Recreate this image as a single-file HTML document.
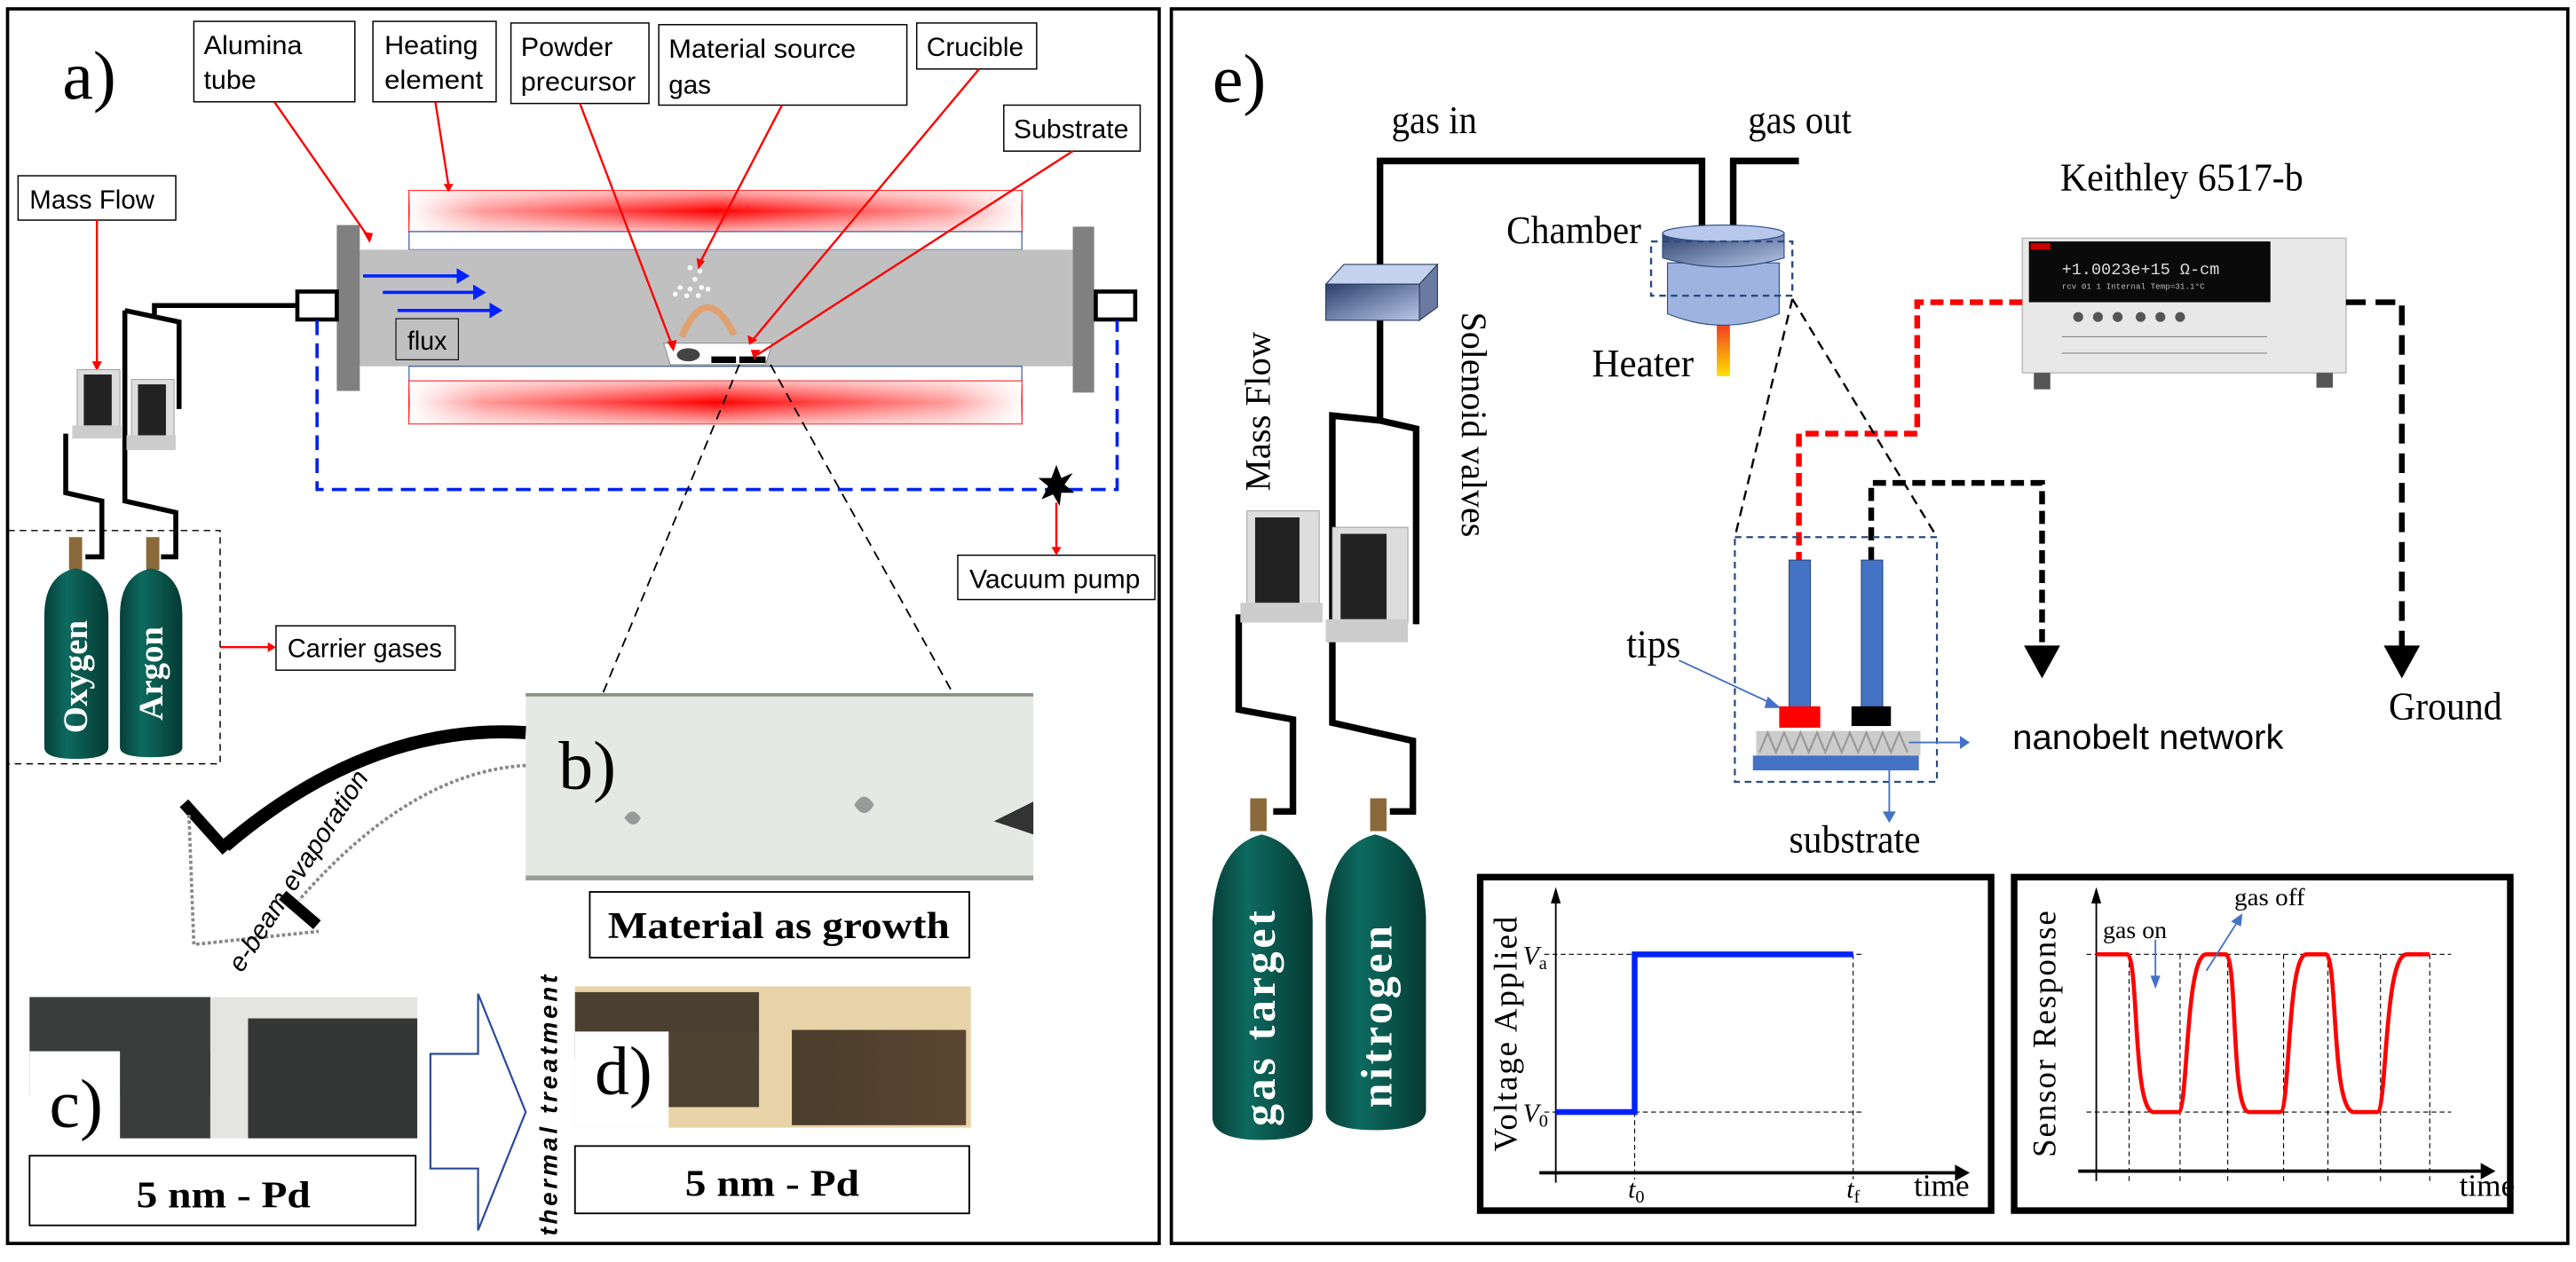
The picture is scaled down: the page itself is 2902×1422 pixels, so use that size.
<!DOCTYPE html>
<html><head><meta charset="utf-8"><style>
html,body{margin:0;padding:0;background:#fff;}
svg{display:block;}
.lb{font-family:"Liberation Sans Narrow","Liberation Sans",sans-serif;font-size:16px;fill:#000;}
.sf{font-family:"Liberation Serif",serif;fill:#000;}
</style></head><body>
<svg width="2902" height="1422" viewBox="0 0 1568 768.3" preserveAspectRatio="none" xmlns="http://www.w3.org/2000/svg">
<defs>
<linearGradient id="heatH" x1="0" x2="1" y1="0" y2="0">
<stop offset="0" stop-color="#fff"/><stop offset="0.12" stop-color="#ff9a9a"/><stop offset="0.5" stop-color="#ff0000"/><stop offset="0.88" stop-color="#ff9a9a"/><stop offset="1" stop-color="#fff"/></linearGradient>
<linearGradient id="heatV" x1="0" x2="0" y1="0" y2="1">
<stop offset="0" stop-color="#fff" stop-opacity="0.7"/><stop offset="0.5" stop-color="#fff" stop-opacity="0"/><stop offset="1" stop-color="#fff" stop-opacity="0.7"/></linearGradient>
<linearGradient id="cyl" x1="0" x2="1"><stop offset="0" stop-color="#063f38"/><stop offset="0.35" stop-color="#0d6a5f"/><stop offset="1" stop-color="#053a33"/></linearGradient>
<linearGradient id="blu" x1="0" x2="1" y1="0" y2="1"><stop offset="0" stop-color="#2b3f6a"/><stop offset="1" stop-color="#b8c8ea"/></linearGradient>
<linearGradient id="rod" x1="0" x2="0" y1="0" y2="1"><stop offset="0" stop-color="#f04020"/><stop offset="1" stop-color="#ffe000"/></linearGradient>
<linearGradient id="brown" x1="0" x2="1"><stop offset="0" stop-color="#4a3d2c"/><stop offset="1" stop-color="#5a4630"/></linearGradient>
</defs>

<rect x="4.6" y="5.4" width="701" height="751.6" fill="none" stroke="#000" stroke-width="2"/>
<text class="sf" x="38" y="60" font-size="42">a)</text>

<g fill="#fff" stroke="#000" stroke-width="0.8">
<rect x="118" y="13" width="98" height="49"/><rect x="227" y="13" width="75" height="49"/>
<rect x="311" y="14" width="84" height="49"/><rect x="401" y="15" width="151" height="49"/>
<rect x="558" y="14" width="73" height="28"/><rect x="611" y="64" width="83" height="28"/>
<rect x="11" y="107" width="96" height="27"/><rect x="583" y="338" width="120" height="27"/>
<rect x="168" y="381" width="109" height="27"/>
</g>
<g class="lb" style="font-size:16px">
<text x="124" y="33" textLength="60" lengthAdjust="spacingAndGlyphs">Alumina</text><text x="124" y="54" textLength="32" lengthAdjust="spacingAndGlyphs">tube</text>
<text x="234" y="33" textLength="57" lengthAdjust="spacingAndGlyphs">Heating</text><text x="234" y="54" textLength="60" lengthAdjust="spacingAndGlyphs">element</text>
<text x="317" y="34" textLength="56" lengthAdjust="spacingAndGlyphs">Powder</text><text x="317" y="55" textLength="70" lengthAdjust="spacingAndGlyphs">precursor</text>
<text x="407" y="35" textLength="114" lengthAdjust="spacingAndGlyphs">Material source</text><text x="407" y="57" style="font-size:16px">gas</text>
<text x="564" y="34" textLength="59" lengthAdjust="spacingAndGlyphs">Crucible</text><text x="617" y="84" textLength="70" lengthAdjust="spacingAndGlyphs">Substrate</text>
<text x="18" y="127" textLength="76" lengthAdjust="spacingAndGlyphs">Mass Flow</text><text x="590" y="358" textLength="104" lengthAdjust="spacingAndGlyphs">Vacuum pump</text>
<text x="175" y="400" textLength="94" lengthAdjust="spacingAndGlyphs">Carrier gases</text>
</g>

<rect x="249" y="116" width="373" height="25" fill="url(#heatH)" stroke="#f00" stroke-width="0.8"/>
<rect x="249" y="116" width="373" height="25" fill="url(#heatV)"/>
<rect x="249" y="141" width="373" height="11" fill="#fff" stroke="#2a4a9a" stroke-width="0.6"/>
<rect x="219" y="152" width="434" height="71" fill="#c0c0c0"/>
<rect x="249" y="223" width="373" height="9" fill="#fff" stroke="#2a4a9a" stroke-width="0.6"/>
<rect x="249" y="232" width="373" height="26" fill="url(#heatH)" stroke="#f00" stroke-width="0.8"/>
<rect x="249" y="232" width="373" height="26" fill="url(#heatV)"/>
<rect x="205" y="137" width="14" height="101" fill="#808080"/>
<rect x="653" y="138" width="13" height="101" fill="#808080"/>
<rect x="181" y="177.5" width="24" height="17" fill="#fff" stroke="#000" stroke-width="2.5"/>
<rect x="667" y="177.5" width="24" height="17" fill="#fff" stroke="#000" stroke-width="2.5"/>
<g stroke="#0022ff" stroke-width="2" fill="#0022ff">
<line x1="221" y1="168" x2="280" y2="168"/><polygon points="279,165 284,168 279,171"/>
<line x1="233" y1="178" x2="290" y2="178"/><polygon points="289,175 294,178 289,181"/>
<line x1="242" y1="189" x2="300" y2="189"/><polygon points="299,186 304,189 299,192"/>
</g>
<rect x="241" y="194" width="38" height="25" fill="#c0c0c0" stroke="#000" stroke-width="0.6"/>
<text class="lb" x="248" y="213" font-size="16" textLength="24" lengthAdjust="spacingAndGlyphs">flux</text>
<path d="M415,205 Q430,170 447,204" fill="none" stroke="#e0a070" stroke-width="4"/>
<polygon points="404,209 470,209 466,222 408,222" fill="#fff" stroke="#888" stroke-width="0.5"/>
<ellipse cx="419" cy="216" rx="7" ry="4" fill="#444"/>
<rect x="433" y="217" width="15" height="4" fill="#000"/><rect x="450" y="217" width="16" height="4" fill="#000"/>
<g fill="#fff" opacity="0.9">
<circle cx="420" cy="163" r="1.5"/><circle cx="426" cy="165" r="1.5"/><circle cx="423" cy="170" r="1.5"/><circle cx="414" cy="175" r="1.5"/><circle cx="420" cy="176" r="1.5"/><circle cx="427" cy="175" r="1.5"/><circle cx="411" cy="179" r="1.5"/><circle cx="418" cy="180" r="1.5"/><circle cx="425" cy="180" r="1.5"/><circle cx="431" cy="176" r="1.5"/></g>
<g stroke="#f00" stroke-width="1.3" fill="none">
<line x1="167" y1="62" x2="224" y2="144"/><line x1="265" y1="62" x2="273" y2="113"/>
<line x1="353" y1="63" x2="409" y2="210"/><line x1="476" y1="64" x2="426" y2="160"/>
<line x1="596" y1="42" x2="459" y2="206"/><line x1="653" y1="92" x2="461" y2="216"/>
<line x1="59" y1="134" x2="59" y2="221"/><line x1="643" y1="306" x2="643" y2="334"/>
<line x1="134" y1="394" x2="164" y2="394"/>
</g>
<g fill="#f00">
<polygon points="221,141 227,142 225,148"/><polygon points="270,112 276,112 273,117"/>
<polygon points="406,208 412,207 410,214"/><polygon points="424,157 429,159 425,164"/>
<polygon points="455,204 461,207 456,210"/><polygon points="457,213 463,213 459,219"/>
<polygon points="56,220 62,220 59,226"/><polygon points="640,333 646,333 643,338"/>
<polygon points="163,391 168,394 163,397"/>
</g>
<path d="M193,195 V298 H680 V195" fill="none" stroke="#0022ee" stroke-width="2" stroke-dasharray="9,5"/>
<polygon points="643,283 646,291 653,288 648,295 654,300 646,300 645,308 641,301 634,304 638,296 632,291 640,291" fill="#000"/>
<g stroke="#000" stroke-width="1" stroke-dasharray="6,4">
<line x1="450" y1="222" x2="367" y2="422"/><line x1="469" y1="222" x2="580" y2="422"/></g>
<g fill="none" stroke="#000" stroke-width="3">
<path d="M181,186 H94 V192"/><path d="M76,189 L109,196 V249"/>
<path d="M76,189 V305 L107,312 V339 H98"/><path d="M40,264 V300 L62,305 V339 H52"/>
</g>
<g><rect x="47" y="225" width="26" height="36" fill="#ddd" stroke="#999" stroke-width="0.5"/><rect x="51" y="228" width="17" height="31" fill="#222"/><rect x="44" y="259" width="30" height="8" fill="#ccc"/>
<rect x="80" y="231" width="26" height="36" fill="#ddd" stroke="#999" stroke-width="0.5"/><rect x="84" y="234" width="17" height="31" fill="#222"/><rect x="77" y="265" width="30" height="9" fill="#ccc"/></g>
<rect x="5" y="323" width="129" height="142" fill="none" stroke="#000" stroke-width="0.8" stroke-dasharray="4,3"/>
<g fill="#8a6a3a"><rect x="42" y="327" width="8" height="20"/><rect x="89" y="327" width="8" height="20"/></g>
<path d="M27,375 Q27,350 46,346 Q65,350 66,375 V455 Q66,462 46,462 Q27,462 27,455 Z" fill="url(#cyl)"/>
<path d="M73,375 Q73,350 92,346 Q111,350 111,375 V455 Q111,461 92,461 Q73,461 73,455 Z" fill="url(#cyl)"/>
<text class="sf" font-size="21" font-weight="bold" transform="translate(53,412) rotate(-90)" text-anchor="middle" style="fill:#fff">Oxygen</text>
<text class="sf" font-size="21" font-weight="bold" transform="translate(99,410) rotate(-90)" text-anchor="middle" style="fill:#fff">Argon</text>
<rect x="320" y="422" width="309" height="114" fill="#e6e9e3"/>
<rect x="320" y="422" width="309" height="2" fill="#8a9088"/><rect x="320" y="533" width="309" height="3" fill="#9aa098"/>
<path d="M605,500 L629,488 L629,508 Z" fill="#333"/>
<path d="M380,498 q5,-8 10,0 q-4,8 -10,0" fill="#999"/><path d="M520,490 q6,-10 12,0 q-6,10 -12,0" fill="#999"/>
<text class="sf" x="340" y="480" font-size="42">b)</text>
<rect x="359" y="543" width="231" height="40" fill="#fff" stroke="#000" stroke-width="1"/>
<text class="sf" x="474" y="571" font-size="23" font-weight="bold" text-anchor="middle" textLength="208" lengthAdjust="spacingAndGlyphs">Material as growth</text>
<path d="M320,446 Q225,440 137,515" fill="none" stroke="#000" stroke-width="8"/>
<line x1="112" y1="489" x2="138" y2="518" stroke="#000" stroke-width="7"/>
<line x1="172" y1="545" x2="193" y2="563" stroke="#000" stroke-width="7"/>
<path d="M320,466 Q250,470 182,548 M115,496 L118,575 L194,567" fill="none" stroke="#888" stroke-width="2" stroke-dasharray="2,1.5"/>
<text x="0" y="0" font-family="Liberation Sans,sans-serif" font-style="italic" font-size="16" transform="translate(186,533) rotate(-57)" text-anchor="middle">e-beam evaporation</text>
<rect x="18" y="607" width="236" height="86" fill="#e4e4e0"/>
<rect x="18" y="607" width="110" height="60" fill="#3b3d3c"/>
<rect x="73" y="640" width="55" height="53" fill="#3b3d3c"/>
<rect x="151" y="620" width="103" height="73" fill="#353736"/>
<rect x="18" y="640" width="55" height="53" fill="#fff"/>
<text class="sf" x="30" y="686" font-size="42">c)</text>
<rect x="18" y="703.6" width="235" height="42.4" fill="#fff" stroke="#000" stroke-width="1"/>
<text class="sf" x="136" y="735" font-size="23" font-weight="bold" text-anchor="middle" textLength="106" lengthAdjust="spacingAndGlyphs">5 nm - Pd</text>
<polygon points="262,641.6 291,641.6 291,605 320,677 291,749 291,711.4 262,711.4" fill="#fff" stroke="#2a4a9a" stroke-width="1.2"/>
<text x="0" y="0" font-family="Liberation Sans,sans-serif" font-style="italic" font-weight="bold" font-size="15" letter-spacing="2" transform="translate(339,672) rotate(-90)" text-anchor="middle">thermal treatment</text>
<rect x="350" y="600.5" width="241" height="86" fill="#e8d3a8"/>
<rect x="350" y="604" width="112" height="40" fill="#4a3f30"/>
<rect x="407" y="628" width="55" height="46" fill="#4e4232"/>
<rect x="482" y="627" width="106" height="58" fill="url(#brown)"/>
<rect x="350" y="628" width="57" height="58.5" fill="#fff"/>
<text class="sf" x="362" y="666" font-size="42">d)</text>
<rect x="350" y="697.7" width="240" height="41" fill="#fff" stroke="#000" stroke-width="1"/>
<text class="sf" x="470" y="728" font-size="23" font-weight="bold" text-anchor="middle" textLength="106" lengthAdjust="spacingAndGlyphs">5 nm - Pd</text>

<rect x="713" y="5.4" width="850" height="751.6" fill="none" stroke="#000" stroke-width="2"/>
<text class="sf" x="738" y="62" font-size="42">e)</text>
<text class="sf" x="847" y="81" font-size="24" textLength="52" lengthAdjust="spacingAndGlyphs">gas in</text>
<text class="sf" x="1064" y="81" font-size="24" textLength="63" lengthAdjust="spacingAndGlyphs">gas out</text>
<g fill="none" stroke="#000" stroke-width="4">
<path d="M840,163 V98 H1036 V139"/><path d="M1055,139 V98 H1095"/>
<path d="M840,195 V256"/>
<path d="M840,256 L811,253 V440 L860,451 V494 H846"/>
<path d="M840,256 L862,261 V380"/>
<path d="M754,374 V432 L787,438 V494 H775"/>
</g>
<polygon points="807,173 818,161 875,161 864,173" fill="#c4d2ee" stroke="#2a3a60" stroke-width="0.6"/>
<polygon points="864,173 875,161 875,187 864,195" fill="#6a7aa0" stroke="#2a3a60" stroke-width="0.6"/>
<rect x="807" y="173" width="57" height="22" fill="url(#blu)" stroke="#2a3a60" stroke-width="0.6"/>
<text class="sf" font-size="22" transform="translate(890,190) rotate(90)" textLength="137" lengthAdjust="spacingAndGlyphs">Solenoid valves</text>
<text class="sf" font-size="22" transform="translate(773,299) rotate(-90)" textLength="97" lengthAdjust="spacingAndGlyphs">Mass Flow</text>
<text class="sf" x="917" y="148" font-size="24" textLength="82" lengthAdjust="spacingAndGlyphs">Chamber</text>
<rect x="1045" y="198" width="8" height="31" fill="url(#rod)"/>
<path d="M1015,160 V191 Q1049,205 1083,191 V160 Z" fill="#9fb3e0" stroke="#2a4a80" stroke-width="0.6"/>
<path d="M1012,142 V157 Q1049,168 1086,157 V142 Z" fill="url(#blu)" stroke="#2a4a80" stroke-width="0.6"/>
<ellipse cx="1049" cy="142" rx="37" ry="5" fill="#b8c8ec" stroke="#2a4a80" stroke-width="0.6"/>
<rect x="1005" y="147" width="86" height="33" fill="none" stroke="#2a4a80" stroke-width="1.3" stroke-dasharray="4,3"/>
<text class="sf" x="969" y="229" font-size="24" textLength="62" lengthAdjust="spacingAndGlyphs">Heater</text>
<text class="sf" x="1254" y="116" font-size="24" textLength="148" lengthAdjust="spacingAndGlyphs">Keithley 6517-b</text>
<rect x="1231" y="145" width="197" height="82" fill="#e8e8e8" stroke="#bbb" stroke-width="0.8"/>
<rect x="1235" y="147" width="147" height="37" fill="#0a0a0a"/>
<rect x="1236" y="148" width="12" height="4" fill="#c00"/>
<text x="1255" y="167" font-family="Liberation Mono,monospace" font-size="10" style="fill:#ddd">+1.0023e+15 Ω-cm</text>
<text x="1255" y="176" font-family="Liberation Mono,monospace" font-size="5" style="fill:#bbb">rcv 01 1  Internal Temp=31.1°C</text>
<g fill="#555"><circle cx="1265" cy="193" r="3"/><circle cx="1277" cy="193" r="3"/><circle cx="1289" cy="193" r="3"/><circle cx="1303" cy="193" r="3"/><circle cx="1315" cy="193" r="3"/><circle cx="1327" cy="193" r="3"/></g>
<g stroke="#888" stroke-width="0.6"><line x1="1255" y1="205" x2="1380" y2="205"/><line x1="1255" y1="215" x2="1380" y2="215"/></g>
<rect x="1238" y="227" width="10" height="10" fill="#555"/><rect x="1410" y="227" width="10" height="9" fill="#555"/>
<path d="M1231,184 H1167 V264 H1095 V341" fill="none" stroke="#f00" stroke-width="3.5" stroke-dasharray="8,4"/>
<path d="M1139,341 V294 H1243 V395" fill="none" stroke="#000" stroke-width="3.5" stroke-dasharray="8,4"/>
<polygon points="1232,393 1254,393 1243,413" fill="#000"/>
<path d="M1428,184 H1462 V395" fill="none" stroke="#000" stroke-width="3.5" stroke-dasharray="12,6"/>
<polygon points="1451,393 1473,393 1462,413" fill="#000"/>
<text class="sf" x="1454" y="438" font-size="24" textLength="69" lengthAdjust="spacingAndGlyphs">Ground</text>
<g stroke="#000" stroke-width="1.3" stroke-dasharray="6,4"><line x1="1091" y1="182" x2="1056" y2="327"/><line x1="1091" y1="182" x2="1179" y2="327"/></g>
<rect x="1056" y="327" width="123" height="149" fill="none" stroke="#2a4a80" stroke-width="1.2" stroke-dasharray="4,3"/>
<rect x="1089" y="341" width="13" height="90" fill="#4472c4" stroke="#2a4a80" stroke-width="0.6"/>
<rect x="1133" y="341" width="13" height="90" fill="#4472c4" stroke="#2a4a80" stroke-width="0.6"/>
<rect x="1083" y="430" width="25" height="13" fill="#f00"/><rect x="1127" y="430" width="24" height="12" fill="#000"/>
<rect x="1069" y="445" width="100" height="15" fill="#ccc"/>
<path d="M1071,458 l5,-12 l5,12 l5,-12 l5,12 l5,-12 l5,12 l5,-12 l5,12 l5,-12 l5,12 l5,-12 l5,12 l5,-12 l5,12 l5,-12 l5,12 l5,-12 l5,12" fill="none" stroke="#999" stroke-width="1.2"/>
<rect x="1067" y="460" width="101" height="9" fill="#4472c4"/>
<text class="sf" x="990" y="400" font-size="24" textLength="33" lengthAdjust="spacingAndGlyphs">tips</text>
<line x1="1022" y1="402" x2="1080" y2="429" stroke="#4472c4" stroke-width="1"/><polygon points="1076,424 1084,431 1074,431" fill="#4472c4"/>
<line x1="1162" y1="452" x2="1194" y2="452" stroke="#4472c4" stroke-width="1"/><polygon points="1193,448 1199,452 1193,456" fill="#4472c4"/>
<text x="1225" y="456" font-family="Liberation Sans Narrow,Liberation Sans,sans-serif" font-size="21" textLength="165" lengthAdjust="spacingAndGlyphs">nanobelt network</text>
<line x1="1150" y1="469" x2="1150" y2="496" stroke="#4472c4" stroke-width="1"/><polygon points="1146,494 1154,494 1150,501" fill="#4472c4"/>
<text class="sf" x="1089" y="519" font-size="24" textLength="80" lengthAdjust="spacingAndGlyphs">substrate</text>
<rect x="759" y="311" width="44" height="58" fill="#ddd" stroke="#999" stroke-width="0.5"/><rect x="764" y="315" width="27" height="52" fill="#222"/><rect x="755" y="367" width="50" height="12" fill="#ccc"/>
<rect x="811" y="321" width="46" height="58" fill="#ddd" stroke="#999" stroke-width="0.5"/><rect x="816" y="325" width="28" height="52" fill="#222"/><rect x="807" y="377" width="50" height="14" fill="#ccc"/>
<g fill="#8a6a3a"><rect x="761" y="486" width="10" height="20"/><rect x="834" y="486" width="10" height="20"/></g>
<path d="M738,560 Q740,515 768,508 Q797,515 799,560 V680 Q799,694 768,694 Q738,694 738,680 Z" fill="url(#cyl)"/>
<path d="M807,558 Q809,515 837,508 Q866,515 868,558 V676 Q868,688 837,688 Q807,688 807,676 Z" fill="url(#cyl)"/>
<text class="sf" font-size="27" font-weight="bold" letter-spacing="2" transform="translate(776,619) rotate(-90)" text-anchor="middle" style="fill:#fff">gas target</text>
<text class="sf" font-size="27" font-weight="bold" letter-spacing="2" transform="translate(847,618) rotate(-90)" text-anchor="middle" style="fill:#fff">nitrogen</text>
<rect x="901" y="534" width="311" height="203" fill="#fff" stroke="#000" stroke-width="4"/>
<line x1="947" y1="548" x2="947" y2="720" stroke="#000" stroke-width="1"/><polygon points="944,550 950,550 947,540" fill="#000"/>
<line x1="937" y1="714" x2="1192" y2="714" stroke="#000" stroke-width="2"/><polygon points="1190,709 1199,714 1190,719" fill="#000"/>
<g stroke="#000" stroke-width="0.6" stroke-dasharray="3,2"><line x1="940" y1="581" x2="1134" y2="581"/><line x1="940" y1="677" x2="1134" y2="677"/><line x1="995" y1="677" x2="995" y2="718"/><line x1="1128" y1="581" x2="1128" y2="718"/></g>
<path d="M947,677 H995 V581 H1128" fill="none" stroke="#0022ff" stroke-width="3.5"/>
<text class="sf" font-size="20" letter-spacing="1" transform="translate(923,629) rotate(-90)" text-anchor="middle">Voltage Applied</text>
<text class="sf" x="927" y="587" font-size="16" font-style="italic">V<tspan font-size="11" dy="3" font-style="normal">a</tspan></text>
<text class="sf" x="927" y="683" font-size="16" font-style="italic">V<tspan font-size="11" dy="3" font-style="normal">0</tspan></text>
<text class="sf" x="991" y="729" font-size="16" font-style="italic">t<tspan font-size="11" dy="3" font-style="normal">0</tspan></text>
<text class="sf" x="1124" y="729" font-size="16" font-style="italic">t<tspan font-size="11" dy="3" font-style="normal">f</tspan></text>
<text class="sf" x="1165" y="728" font-size="19">time</text>
<rect x="1226" y="534" width="302" height="203" fill="#fff" stroke="#000" stroke-width="4"/>
<line x1="1276" y1="548" x2="1276" y2="719" stroke="#000" stroke-width="1"/><polygon points="1273,550 1279,550 1276,540" fill="#000"/>
<line x1="1265" y1="713" x2="1512" y2="713" stroke="#000" stroke-width="2"/><polygon points="1510,708 1519,713 1510,718" fill="#000"/>
<g stroke="#000" stroke-width="0.6" stroke-dasharray="3,2"><line x1="1270" y1="581" x2="1492" y2="581"/><line x1="1270" y1="677" x2="1492" y2="677"/>
<line x1="1296" y1="581" x2="1296" y2="719"/><line x1="1327" y1="581" x2="1327" y2="719"/><line x1="1356" y1="581" x2="1356" y2="719"/><line x1="1390" y1="581" x2="1390" y2="719"/><line x1="1417" y1="581" x2="1417" y2="719"/><line x1="1449" y1="581" x2="1449" y2="719"/><line x1="1479" y1="581" x2="1479" y2="719"/></g>
<path d="M1276,581 H1295 C1302,585 1298,677 1311,677 H1326 C1332,677 1330,581 1343,581 H1355 C1362,585 1358,677 1369,677 H1388 C1394,677 1392,581 1404,581 H1416 C1423,585 1419,677 1433,677 H1447 C1453,677 1451,581 1465,581 H1479" fill="none" stroke="#f00" stroke-width="2.5"/>
<text class="sf" font-size="20" letter-spacing="1" transform="translate(1251,629) rotate(-90)" text-anchor="middle">Sensor Response</text>
<text class="sf" x="1280" y="571" font-size="15" textLength="39" lengthAdjust="spacingAndGlyphs">gas on</text>
<text class="sf" x="1360" y="551" font-size="15" textLength="43" lengthAdjust="spacingAndGlyphs">gas off</text>
<line x1="1312" y1="572" x2="1312" y2="597" stroke="#4472c4" stroke-width="1"/><polygon points="1309,594 1315,594 1312,602" fill="#4472c4"/>
<line x1="1343" y1="591" x2="1362" y2="561" stroke="#4472c4" stroke-width="1"/><polygon points="1358,561 1365,556 1364,564" fill="#4472c4"/>
<text class="sf" x="1497" y="728" font-size="19">time</text>
</svg>
</body></html>
